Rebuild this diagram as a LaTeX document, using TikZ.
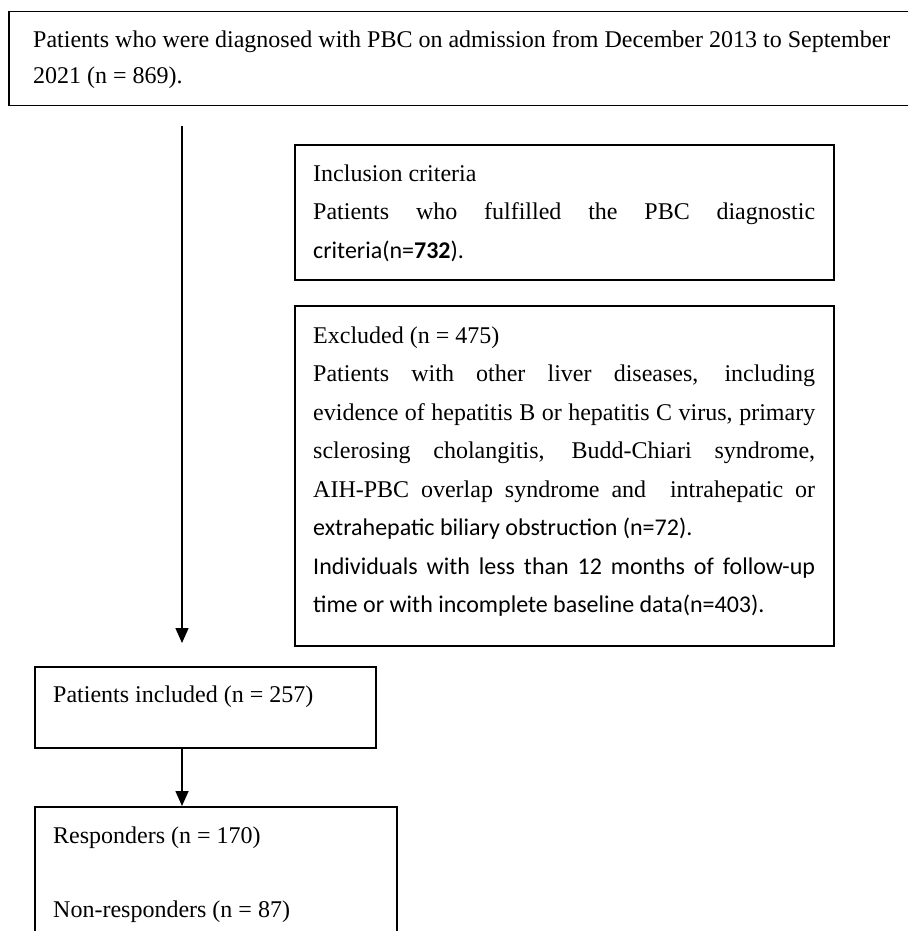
\documentclass[tikz,border=0pt]{standalone}
\usepackage{fontspec}
\setmainfont{Liberation Serif}
\newfontfamily\calibri{Carlito}
\usepackage{tikz}
\usetikzlibrary{arrows.meta, positioning, calc}
\tikzset{%
	box/.style={draw, rectangle, line width=1.5pt, inner sep=0pt, anchor=north west},
	txt/.style={inner sep=0pt, anchor=base west, font=\fontsize{24}{38.5}\selectfont},
	flow/.style={line width=1.6pt, -{Triangle[length=15pt, width=13pt]}}
}

\begin{document}
\begin{tikzpicture}[x=1pt, y=1pt]
	\useasboundingbox (0,0) rectangle (908,-931);
	\clip (0,0) rectangle (908,-931);

	\node[box, minimum width=930, minimum height=94] (adm) at (8,-11) {};
	\node[box, minimum width=539, minimum height=135] (incl) at (294,-144) {};
	\node[box, minimum width=539, minimum height=340] (excl) at (294,-305) {};
	\node[box, minimum width=341, minimum height=81] (pinc) at (34,-666) {};
	\node[box, minimum width=362, minimum height=160] (resp) at (34,-806) {};

	\node[txt, text width=870, align=flush left, font=\fontsize{24}{36}\selectfont] (admtxt) at (33,-48)
		{\hyphenpenalty=10000
		Patients who were diagnosed with PBC on admission from December 2013 to September\\2021 (n = 869).};
	\node[txt, text width=502, align=justify] (incltxt) at (313,-181)
		{\tolerance=10000\hyphenpenalty=10000\exhyphenpenalty=10000
		Inclusion criteria\\
		Patients who fulfilled the PBC diagnostic\linebreak
		{\calibri criteria(n=\textbf{732}).}};
	\node[txt, text width=502, align=justify] (excltxt) at (313,-343)
		{\tolerance=10000\hyphenpenalty=10000\exhyphenpenalty=10000
		Excluded (n = 475)\\
		Patients with other liver diseases, including\linebreak
		evidence of hepatitis B or hepatitis C virus, primary\linebreak
		sclerosing cholangitis, Budd-Chiari syndrome,\linebreak
		AIH-PBC overlap syndrome and\ \ intrahepatic or\linebreak
		{\calibri extrahepatic biliary obstruction (n=72).}\\
		{\calibri Individuals with less than 12 months of follow-up\linebreak
		time or with incomplete baseline data(n=403).}};
	\node[txt] (pinctxt) at (53,-702) {Patients included (n = 257)};
	\node[txt, text width=330, align=flush left] (resptxt) at (53,-843)
		{Responders (n = 170)\\[35.5pt]Non-responders (n = 87)};

	\coordinate (a1) at ([xshift=174,yshift=-20]adm.south west);
	\coordinate (a2) at ([xshift=148,yshift=23]pinc.north west);
	\draw[flow] (a1) to (a2);
	\draw[flow] ([xshift=148]pinc.south west) to ([xshift=148]resp.north west);
\end{tikzpicture}
\end{document}
